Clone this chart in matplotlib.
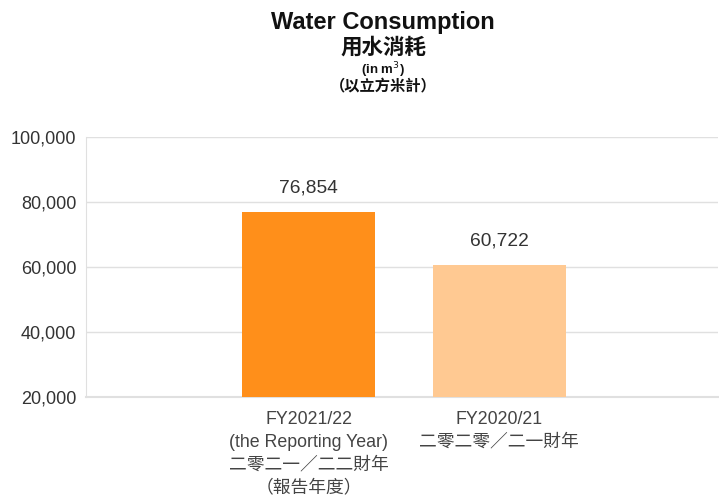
import matplotlib
matplotlib.use("Agg")
import matplotlib.pyplot as plt
from matplotlib.ticker import FuncFormatter

categories = ["FY2021/22\n(the Reporting Year)\n二零二一／二二財年\n（報告年度）",
              "FY2020/21\n二零二零／二一財年"]
values = [76854, 60722]
colors = ["#FF8F1A", "#FFC992"]
yticks = [20000, 40000, 60000, 80000, 100000]

FAM = ["Liberation Sans", "Noto Sans CJK TC", "DejaVu Sans"]
plt.rcParams['font.family'] = FAM

fig = plt.figure(figsize=(7.19, 4.97), dpi=100)
ax = fig.add_axes([86/719, 1-397/497, (718-86)/719, (397-137)/497])

x = list(range(len(values)))
bars = ax.bar(x, values, width=0.70, color=colors, zorder=3)
ax.set_ylim(20000, 100000)
ax.set_xlim(-1.167, 2.147)
ax.set_yticks(yticks)
ax.yaxis.set_major_formatter(FuncFormatter(lambda v, p: f"{int(v):,}"))
ax.grid(axis='y', color='#e0e0e0', linewidth=1, zorder=0)
ax.tick_params(axis='y', length=0, labelsize=13, labelcolor='#333333', pad=7)
ax.set_xticks([])
for s in ['top', 'right']:
    ax.spines[s].set_visible(False)
ax.spines['left'].set_color('#e0e0e0')
ax.spines['bottom'].set_color('#e0e0e0')
ax.spines['bottom'].set_linewidth(1.5)

for xi, v in zip(x, values):
    ax.text(xi, v + 4700, f"{v:,}", ha='center', va='bottom', fontsize=13.8, color='#333333')

for xi, lab in zip(x, categories):
    ax.text(xi, -0.055, lab, transform=ax.get_xaxis_transform(), ha='center', va='top',
            fontsize=12.8, color='#444444', linespacing=1.43)

cx = 383/719
fig.text(cx, 1-23/497, "Water Consumption", ha='center', va='center', fontsize=17, fontweight='bold', color='#111111')
fig.text(cx, 1-48/497, "用水消耗", ha='center', va='center', fontsize=15.5, fontweight='bold', color='#111111')
fig.text(cx, 1-70/497, "(in m$^3$)", ha='center', va='center', fontsize=9.5, fontweight='bold', color='#111111')
fig.text(cx, 1-87/497, "（以立方米計）", ha='center', va='center', fontsize=11, fontweight='bold', color='#111111')

fig.savefig("out.png", dpi=100)
